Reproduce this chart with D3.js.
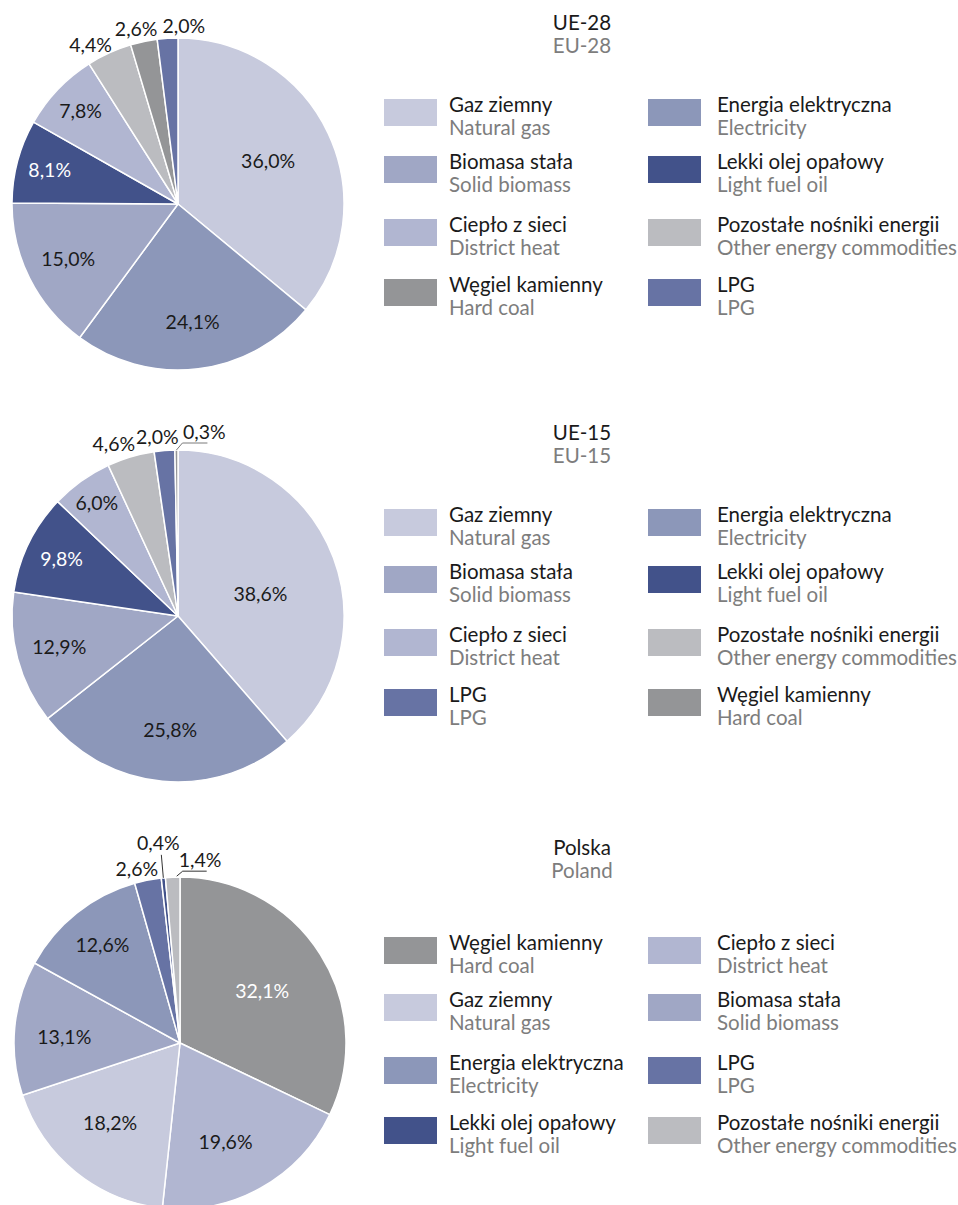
<!DOCTYPE html>
<html>
<head>
<meta charset="utf-8">
<script src="https://cdn.jsdelivr.net/npm/d3@7"></script>
<style>
  html, body { margin: 0; padding: 0; background: #fff; }
  svg { display: block; font-family: Lato, "Noto Sans", sans-serif; }
</style>
</head>
<body>
<svg id="chart" width="958" height="1205"></svg>
<script>
// fuel categories (Polish / English names)
const fuelKeys = ["gas", "elec", "bio", "lfo", "heat", "other", "coal", "lpg"];
const fuelPl = ["Gaz ziemny", "Energia elektryczna", "Biomasa stała", "Lekki olej opałowy",
  "Ciepło z sieci", "Pozostałe nośniki energii", "Węgiel kamienny", "LPG"];
const fuelEn = ["Natural gas", "Electricity", "Solid biomass", "Light fuel oil",
  "District heat", "Other energy commodities", "Hard coal", "LPG"];
const fuelColors = ["#c7cadd", "#8c97b9", "#a0a7c5", "#42528a", "#b1b6d1", "#bbbcc0", "#949597", "#6773a4"];

// shares in %, in slice order (clockwise from 12 o'clock)
const ue28Order = ["gas", "elec", "bio", "lfo", "heat", "other", "coal", "lpg"];
const ue28Values = [36.0, 24.1, 15.0, 8.1, 7.8, 4.4, 2.6, 2.0];

const ue15Order = ["gas", "elec", "bio", "lfo", "heat", "other", "lpg", "coal"];
const ue15Values = [38.6, 25.8, 12.9, 9.8, 6.0, 4.6, 2.0, 0.3];

const plOrder = ["coal", "heat", "gas", "bio", "elec", "lpg", "lfo", "other"];
const plValues = [32.1, 19.6, 18.2, 13.1, 12.6, 2.6, 0.4, 1.4];

// label placement: [radius factor, dx, dy]; null = label drawn with a leader line
const ue28Labels = [[0.60, 0, 0], [0.72, 0, 0], [0.74, 0, 0], [0.80, 0, 0], [0.81, 0, 0],
  [1.054, -15, 0], [1.078, -5, 0], [1.072, 17, 0]];
const ue15Labels = [[0.53, 0, 9], [0.69, 3, 0], [0.74, 0, 0], [0.78, 0, 0], [0.84, 0, 0],
  [1.08, -13, 0], [1.08, -6, 0], null];
const plLabels = [[0.585, 0, 0], [0.687, -10, 0], [0.623, -5, 0], [0.70, 0, 5], [0.75, 0, 0],
  [1.066, -9, 0], null, null];

const panels = [
  { title: "UE-28", sub: "EU-28", order: ue28Order, values: ue28Values, cx: 178, cy: 204,
    titleY: 30, legendY: 99, labels: ue28Labels, leaders: [] },
  { title: "UE-15", sub: "EU-15", order: ue15Order, values: ue15Values, cx: 178, cy: 616,
    titleY: 440, legendY: 509, labels: ue15Labels,
    leaders: [{ i: 7, pts: [[0, 0], [6, -7], [31, -7]], text: [6.6, -11], anchor: "start", color: "#7a7a7a" }] },
  { title: "Polska", sub: "Poland", order: plOrder, values: plValues, cx: 180, cy: 1043,
    titleY: 855, legendY: 937, labels: plLabels,
    leaders: [
      { i: 6, pts: [[0, 0], [-2, -23]], text: [-5, -28], anchor: "middle", color: "#333" },
      { i: 7, pts: [[4, -1], [10, -6], [34, -6]], text: [6, -10], anchor: "start", color: "#333" }
    ] }
];

const R = 166;
const darkSlices = new Set(["lfo", "coal"]);
const legendRows = [0, 57, 120, 180];
const legendCols = [384, 648];
const legendTextX = [449, 717];
const legendFont = 20.5;

const svg = d3.select("#chart");
const color = d3.scaleOrdinal().domain(fuelKeys).range(fuelColors);
const pie = d3.pie().sort(null).value(d => d.value);
const arc = d3.arc().innerRadius(0).outerRadius(R);
const fmt = v => d3.format(".1f")(v).replace(".", ",") + "%";
const polar = (a, r) => [Math.sin(a) * r, -Math.cos(a) * r];

panels.forEach(p => {
  const data = p.order.map((k, i) => ({ key: k, value: p.values[i] }));
  const arcs = pie(data);
  const g = svg.append("g").attr("transform", `translate(${p.cx},${p.cy})`);

  g.selectAll("path.slice")
    .data(arcs)
    .join("path")
    .attr("class", "slice")
    .attr("d", arc)
    .attr("fill", d => color(d.data.key))
    .attr("stroke", "#fff")
    .attr("stroke-width", 1.5)
    .attr("stroke-linejoin", "round");

  // labels
  g.selectAll("text.lbl")
    .data(arcs.filter((d, i) => p.labels[i]))
    .join("text")
    .attr("class", "lbl")
    .each(function (d) {
      const l = p.labels[d.index];
      const a = (d.startAngle + d.endAngle) / 2;
      const [x, y] = polar(a, l[0] * R);
      d3.select(this).attr("x", x + l[1]).attr("y", y + l[2]);
    })
    .attr("dy", "0.35em")
    .attr("text-anchor", "middle")
    .attr("font-size", 19.5)
    .attr("fill", d => (darkSlices.has(d.data.key) && p.labels[d.index][0] < 1) ? "#fff" : "#1a1a1a")
    .text(d => fmt(d.data.value));

  // leader-line labels
  p.leaders.forEach(ld => {
    const d = arcs[ld.i];
    const a = (d.startAngle + d.endAngle) / 2;
    const [ox, oy] = polar(a, R);
    g.append("path")
      .attr("d", d3.line()(ld.pts.map(q => [ox + q[0], oy + q[1]])))
      .attr("fill", "none")
      .attr("stroke", ld.color)
      .attr("stroke-width", 1);
    g.append("text")
      .attr("x", ox + ld.text[0])
      .attr("y", oy + ld.text[1])
      .attr("text-anchor", ld.anchor)
      .attr("font-size", 19.5)
      .attr("fill", "#1a1a1a")
      .text(fmt(d.data.value));
  });

  // title
  svg.append("text").attr("x", 582).attr("y", p.titleY)
    .attr("text-anchor", "middle").attr("font-size", legendFont).attr("fill", "#1a1a1a").text(p.title);
  svg.append("text").attr("x", 582).attr("y", p.titleY + 23)
    .attr("text-anchor", "middle").attr("font-size", legendFont).attr("fill", "#7d7d7d").text(p.sub);

  // legend, row-major in slice order
  const leg = svg.append("g");
  const items = leg.selectAll("g.item")
    .data(p.order)
    .join("g")
    .attr("class", "item")
    .attr("transform", (k, i) => `translate(0,${p.legendY + legendRows[Math.floor(i / 2)]})`);
  items.append("rect")
    .attr("x", (k, i) => legendCols[i % 2])
    .attr("width", 53).attr("height", 27).attr("fill", k => color(k));
  items.append("text")
    .attr("x", (k, i) => legendTextX[i % 2]).attr("y", 12.5)
    .attr("font-size", legendFont).attr("fill", "#1a1a1a")
    .text(k => fuelPl[fuelKeys.indexOf(k)]);
  items.append("text")
    .attr("x", (k, i) => legendTextX[i % 2]).attr("y", 35.5)
    .attr("font-size", legendFont).attr("fill", "#7d7d7d")
    .text(k => fuelEn[fuelKeys.indexOf(k)]);
});
</script>
</body>
</html>
